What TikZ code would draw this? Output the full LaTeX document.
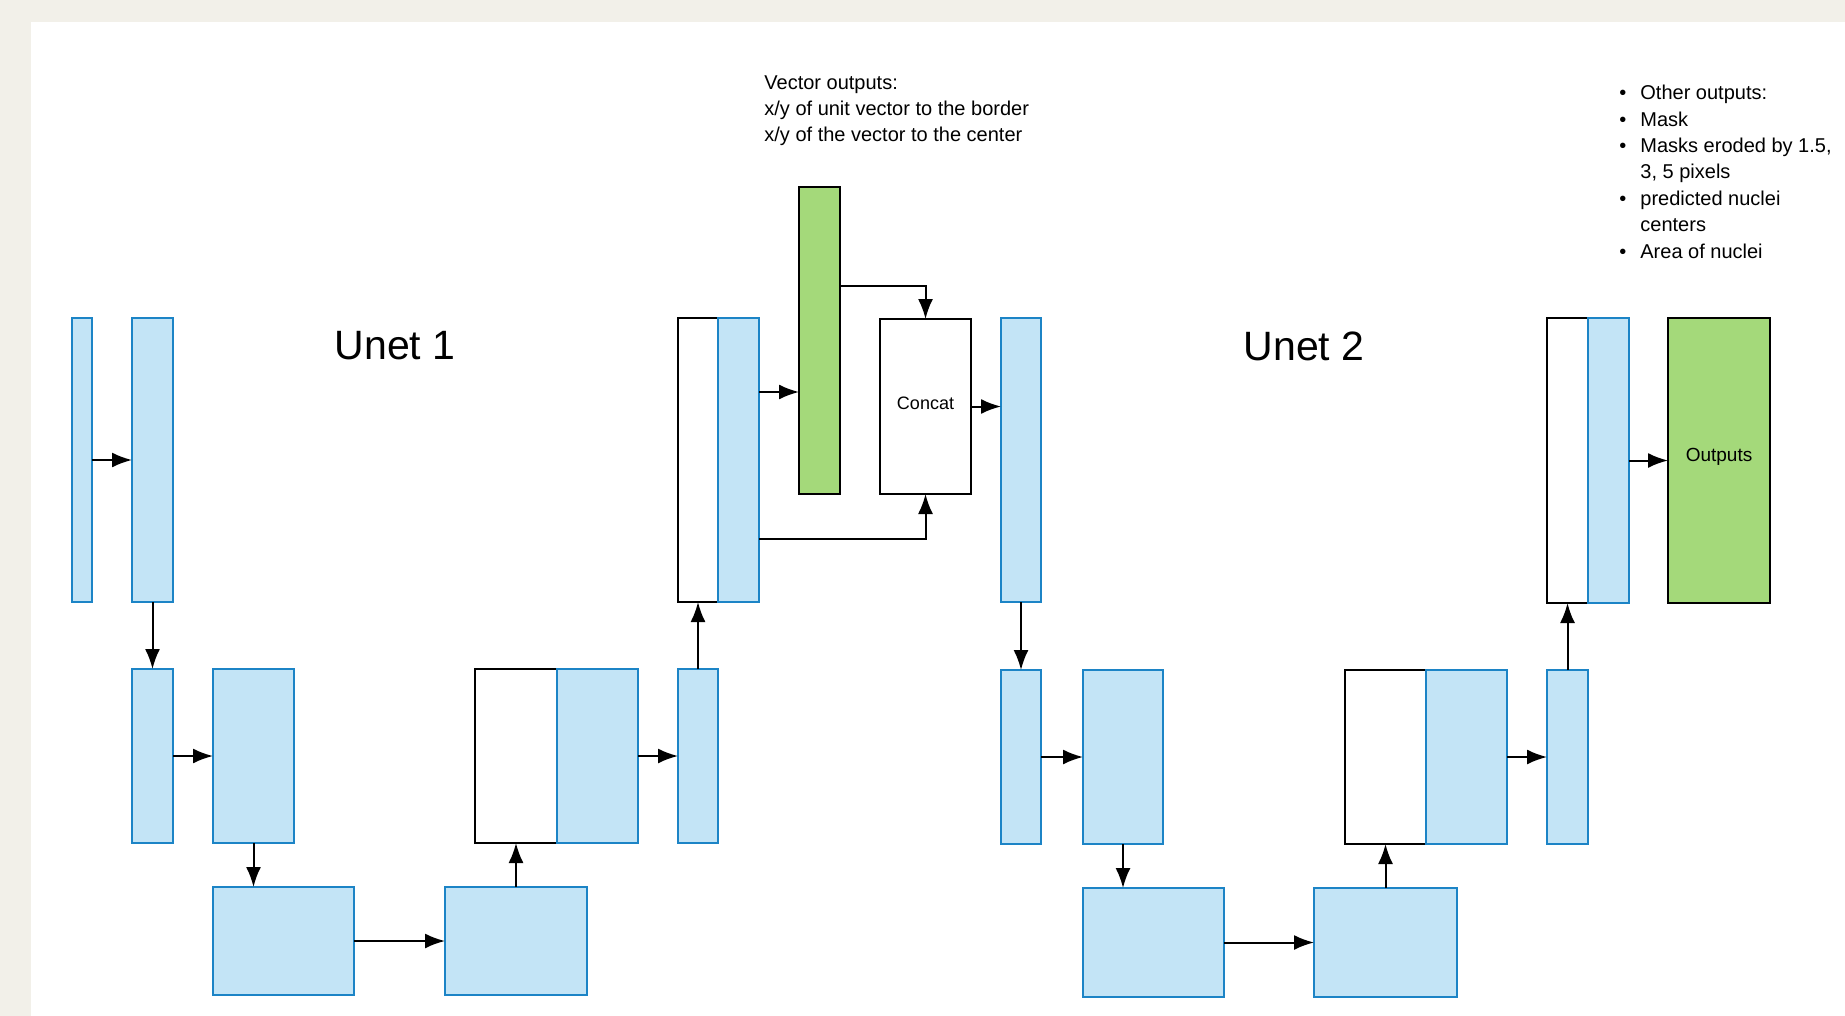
\documentclass[tikz,border=0pt]{standalone}
\usepackage{fontspec}
\setmainfont{Liberation Sans}
\usetikzlibrary{arrows.meta,fit}
\definecolor{beige}{HTML}{F2F0E9}
\definecolor{bfill}{HTML}{C3E4F6}
\definecolor{bline}{HTML}{1C84C6}
\definecolor{gfill}{HTML}{A4D97A}
\tikzset{
  blk/.style={draw=bline, fill=bfill, line width=1pt, inner sep=0pt, outer sep=0pt},
  wblk/.style={draw=black, fill=white, line width=1pt, inner sep=0pt, outer sep=0pt},
  gblk/.style={draw=black, fill=gfill, line width=1pt, inner sep=0pt, outer sep=0pt},
  cblk/.style={draw=black, fill=white, line width=1pt, inner sep=0pt, outer sep=0pt},
  arr/.style={-{Latex[length=10pt,width=7.5pt]}, line width=1pt},
  title/.style={font=\fontsize{20.5pt}{25pt}\selectfont, inner sep=0pt},
  note/.style={font=\fontsize{10pt}{13.2pt}\selectfont, align=left, inner sep=0pt, anchor=base west},
}
\newcommand\bx[7]{\node[#2, fit={(#3,#4)(#5,#6)}] (#1) {#7};}
\begin{document}
\begin{tikzpicture}[x=0.5pt,y=-0.5pt]
\fill[beige] (0,0) rectangle (1845,1016);
\fill[white] (31,22) rectangle (1845,1016);
\useasboundingbox (0,0) rectangle (1845,1016);
% Unet 1
\bx{A1}{blk}{72}{318}{92}{602}{}
\bx{A2}{blk}{132}{318}{173}{602}{}
\bx{B1}{blk}{132}{669}{173}{843}{}
\bx{B2}{blk}{213}{669}{294}{843}{}
\bx{C1}{blk}{213}{887}{354}{995}{}
\bx{C2}{blk}{445}{887}{587}{995}{}
\bx{Dw}{wblk}{475}{669}{557}{843}{}
\bx{Db}{blk}{557}{669}{638}{843}{}
\bx{E1}{blk}{678}{669}{718}{843}{}
\bx{Fw}{wblk}{678}{318}{718}{602}{}
\bx{Fb}{blk}{718}{318}{759}{602}{}
\bx{Gr}{gblk}{799}{187}{840}{494}{}
\bx{Cc}{cblk}{880}{319}{971}{494}{\raisebox{-3pt}{\fontsize{9pt}{11pt}\selectfont Concat}}
% Unet 2
\bx{G1}{blk}{1001}{318}{1041}{602}{}
\bx{H1}{blk}{1001}{670}{1041}{844}{}
\bx{H2}{blk}{1083}{670}{1163}{844}{}
\bx{I1}{blk}{1083}{888}{1224}{997}{}
\bx{I2}{blk}{1314}{888}{1457}{997}{}
\bx{Jw}{wblk}{1345}{670}{1426}{844}{}
\bx{Jb}{blk}{1426}{670}{1507}{844}{}
\bx{K1}{blk}{1547}{670}{1588}{844}{}
\bx{Lw}{wblk}{1547}{318}{1588}{603}{}
\bx{Lb}{blk}{1588}{318}{1629}{603}{}
\bx{Out}{gblk}{1668}{318}{1770}{603}{\raisebox{-3pt}{\fontsize{9.5pt}{11pt}\selectfont Outputs}}
% connectors
\draw[arr] (A1.east) -- (A2.west);
\draw[arr] (A2.south) -- (B1.north);
\draw[arr] (B1.east) -- (B2.west);
\draw[arr] (B2.south) -- (B2.south |- C1.north);
\draw[arr] (C1.east) -- (C2.west);
\draw[arr] (C2.north) -- (C2.north |- Dw.south);
\draw[arr] (Db.east) -- (E1.west);
\draw[arr] (E1.north) -- (Fw.south);
\draw[arr] (Fb.east |- 0,392) -- (Gr.west |- 0,392);
\draw[arr] (Gr.east |- 0,286) -| (Cc.north);
\draw[arr] (Fb.east |- 0,539) -| (Cc.south);
\draw[arr] (Cc.east) -- (G1.west |- Cc.east);
\draw[arr] (G1.south) -- (H1.north);
\draw[arr] (H1.east) -- (H2.west);
\draw[arr] (H2.south) -- (H2.south |- I1.north);
\draw[arr] (I1.east) -- (I2.west);
\draw[arr] (I2.north) -- (I2.north |- Jw.south);
\draw[arr] (Jb.east) -- (K1.west);
\draw[arr] (K1.north) -- (Lw.south);
\draw[arr] (Lb.east) -- (Out.west);
% texts
\node[title] (u1) at (395,346) {Unet 1};
\node[title] (u2) at (1304,346) {Unet 2};
\node[note] (vec) at (764,142) {Vector outputs:\\x/y of unit vector to the border\\x/y of the vector to the center};
\node[note] (oth) at (1619,258) {%
\makebox[10.5pt][l]{\textbullet}Other outputs:\\
\makebox[10.5pt][l]{\textbullet}Mask\\
\makebox[10.5pt][l]{\textbullet}Masks eroded by 1.5,\\
\hspace*{10.5pt}3, 5 pixels\\
\makebox[10.5pt][l]{\textbullet}predicted nuclei\\
\hspace*{10.5pt}centers\\
\makebox[10.5pt][l]{\textbullet}Area of nuclei};
\end{tikzpicture}
\end{document}
